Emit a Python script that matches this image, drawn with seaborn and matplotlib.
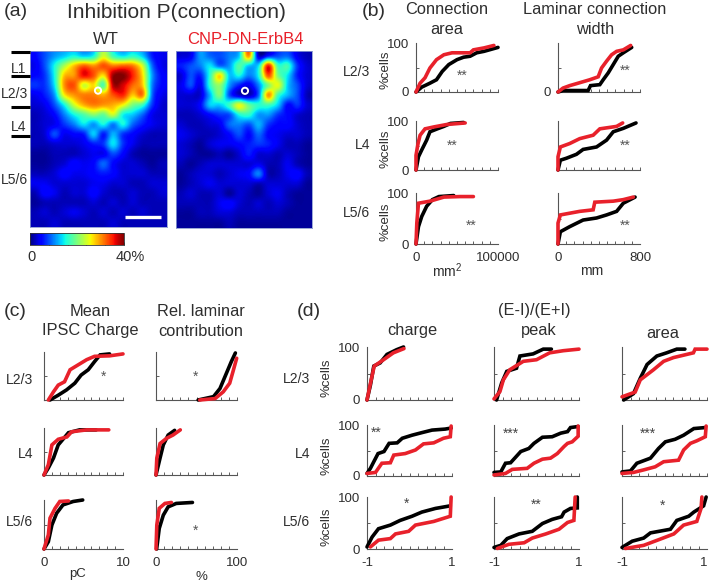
import numpy as np
import matplotlib
matplotlib.use("Agg")
import matplotlib.pyplot as plt
from matplotlib.lines import Line2D
import seaborn as sns

sns.set_style("white")
plt.rcParams['font.family'] = ['Liberation Sans', 'DejaVu Sans']
plt.rcParams['mathtext.fontset'] = 'custom'
plt.rcParams['mathtext.rm'] = 'Liberation Sans'

W, H = 709, 582
TXT = '#2e2e2e'
RED = '#e8212b'

# ---- heat map values, percent of connected sites ----
wt_map = [
 [5,8,11,13,15,13,15,24,17,14,16,13,6,4],
 [4,8,15,22,28,32,30,33,31,32,31,24,9,4],
 [5,7,15,28,30,36,33,27,39,40,35,27,11,5],
 [7,7,14,30,33,24,27,18,38,37,32,28,10,5],
 [4,6,11,26,30,31,31,29,33,35,28,31,9,4],
 [3,4,8,15,24,29,31,30,29,26,20,17,7,3],
 [2,3,5,10,15,18,21,19,24,15,13,9,4,3],
 [2,3,4,7,10,14,11,15,10,15,9,6,4,3],
 [2,3,8,4,5,6,13,6,12,7,5,3,2,2],
 [2,2,3,3,3,4,6,7,14,7,4,2,2,2],
 [1,1,2,2,2,3,4,4,8,5,2,1,1,1],
 [1,1,2,3,5,4,5,9,5,3,3,2,1,2],
 [2,2,3,5,4,4,5,6,5,3,3,3,2,2],
 [4,4,3,3,3,3,4,4,3,3,2,2,3,3],
 [2,5,4,2,3,3,5,3,2,2,3,2,2,3],
 [1,2,2,2,2,2,3,2,3,2,3,2,2,2],
 [2,3,2,3,4,3,2,3,2,3,2,3,2,2],
 [2,2,3,2,2,2,2,2,3,2,2,2,2,2],
]
ko_map = [
 [3,4,11,9,8,10,13,30,3,6,8,9,4,2],
 [6,8,10,14,9,11,18,13,14,35,17,17,7,3],
 [3,8,6,16,27,13,15,10,15,33,20,14,6,3],
 [4,8,4,16,21,11,6,4,10,20,25,13,8,3],
 [3,3,3,12,20,8,3,2,9,30,17,12,8,2],
 [3,3,5,13,13,17,25,19,16,17,13,5,7,3],
 [2,2,3,5,7,8,15,16,11,11,7,5,3,2],
 [3,2,2,3,4,9,10,8,12,7,5,5,3,2],
 [4,3,2,2,3,5,8,5,9,5,4,3,3,2],
 [3,2,1,3,4,4,5,6,7,6,4,2,2,1],
 [3,2,1,1,2,1,3,6,3,3,2,3,2,1],
 [2,1,2,3,3,3,3,3,4,2,2,4,2,1],
 [1,2,3,3,2,3,4,5,10,2,2,4,5,2],
 [1,2,3,4,3,3,3,3,2,3,3,3,3,1],
 [2,3,2,2,3,1,3,2,1,3,4,2,1,1],
 [2,2,2,2,4,5,3,2,3,2,3,2,1,1],
 [1,1,2,2,3,3,2,2,2,2,2,1,1,1],
 [1,1,1,1,1,2,1,1,1,1,1,1,1,1],
]

# ---- panel b: connection area (thousand um2) ----
b_area_l23_wt_x = [0,7,17,25,32,40,50,58,66,74,83,100]
b_area_l23_wt_y = [0,10,18,25,42,56,66,71,73,80,83,91]
b_area_l23_ko_x = [0,5,11,17,25,34,44,66,70,83,95]
b_area_l23_ko_y = [0,18,29,49,66,76,80,80,86,90,95]
b_area_l4_wt_x = [0,3,7,13,17,26,34,42,58]
b_area_l4_wt_y = [0,27,41,61,78,84,89,95,97]
b_area_l4_ko_x = [0,0,2.5,5,11,22,38,60]
b_area_l4_ko_y = [0,30,54,71,84,88,93,96]
b_area_l56_wt_x = [0,3,7,13,20,28,46]
b_area_l56_wt_y = [0,34,54,74,87,93,95]
b_area_l56_ko_x = [0,1,3,17,34,54,70]
b_area_l56_ko_y = [0,41,80,84,92,93,93]
# ---- panel b: laminar width (um) ----
b_width_l23_wt_x = [0,49,294,317,408,441,490,539,588,637,719]
b_width_l23_wt_y = [0,3,3,13,15,25,39,56,73,80,91]
b_width_l23_ko_x = [0,49,114,180,310,392,425,474,523,572,637,709]
b_width_l23_ko_y = [0,8,13,17,25,31,49,63,76,83,86,95]
b_width_l4_wt_x = [0,23,82,180,245,376,474,539,637,761]
b_width_l4_wt_y = [0,20,24,32,42,47,61,78,85,96]
b_width_l4_ko_x = [0,0,23,114,212,343,408,572,631]
b_width_l4_ko_y = [0,27,47,54,64,71,84,89,96]
b_width_l56_wt_x = [0,23,114,245,376,474,572,637,752]
b_width_l56_wt_y = [0,24,34,47,51,57,64,80,92]
b_width_l56_ko_x = [0,0,23,212,343,359,539,637,735]
b_width_l56_ko_y = [0,41,57,64,67,82,84,87,92]

# ---- panel c: charge (pC) ----
c_charge_l23_wt_x = [.76,1.8,2.85,3.9,4.7,5.6,6.4,7.1,8.3]
c_charge_l23_wt_y = [0,10,21,35,52,63,80,94,96]
c_charge_l23_ko_x = [.55,1.2,1.8,2.6,3.3,4.3,5.4,6.4,8.3,10]
c_charge_l23_ko_y = [0,17,31,38,63,73,84,91,92,96]
c_charge_l4_wt_x = [0,.55,1.2,1.8,3.1,4.5,6.6]
c_charge_l4_wt_y = [0,15,36,64,90,96,96]
c_charge_l4_ko_x = [0,.55,1,1.8,2.9,3.5,5.4,8.2]
c_charge_l4_ko_y = [0,22,64,76,81,92,96,96]
c_charge_l56_wt_x = [0,.55,1,1.6,2.4,3.7,4.9]
c_charge_l56_wt_y = [0,15,49,73,90,97,100]
c_charge_l56_ko_x = [0,.55,.76,1.4,2,3.1]
c_charge_l56_ko_y = [0,29,63,83,97,98]
# ---- panel c: relative laminar contribution (%) ----
c_rel_l23_wt_x = [52,71,79,87,93,98]
c_rel_l23_wt_y = [0,7,24,56,80,98]
c_rel_l23_ko_x = [54,73,83,91,95,99.6]
c_rel_l23_ko_y = [0,3,17,35,59,87]
c_rel_l4_wt_x = [0,5,9,15,23]
c_rel_l4_wt_y = [0,36,64,85,95]
c_rel_l4_ko_x = [0,1,5,13,21,30]
c_rel_l4_ko_y = [0,36,67,78,85,96]
c_rel_l56_wt_x = [.8,4,9,15,25,45]
c_rel_l56_wt_y = [0,42,69,86,93,95]
c_rel_l56_ko_x = [0,1,4,11,19]
c_rel_l56_ko_y = [0,49,83,93,95]

# ---- panel d: (E-I)/(E+I) ----
d_charge_l23_wt_x = [-1,-.92,-.84,-.69,-.53,-.3,-.14]
d_charge_l23_wt_y = [0,28,64,70,86,95,100]
d_charge_l23_ko_x = [-1,-.92,-.83,-.61,-.38,-.13]
d_charge_l23_ko_y = [0,31,64,76,89,97]
d_charge_l4_wt_x = [-1,-.92,-.84,-.74,-.6,-.48,-.29,-.17,.06,.29,.53,.84,.98]
d_charge_l4_wt_y = [5,15,28,44,48,64,65,74,80,85,90,92,94]
d_charge_l4_ko_x = [-1,-.8,-.65,-.45,-.37,-.1,.14,.33,.57,.8,.96,.98]
d_charge_l4_ko_y = [5,7,25,26,41,44,51,63,65,74,77,98]
d_charge_l56_wt_x = [-1,-.88,-.73,-.45,-.22,.06,.29,.61,.96]
d_charge_l56_wt_y = [4,23,39,46,55,63,71,78,83]
d_charge_l56_ko_x = [-.92,-.73,-.45,-.33,-.02,.14,.57,.96,.98]
d_charge_l56_ko_y = [4,17,20,29,34,46,53,63,100]

d_peak_l23_wt_x = [-.94,-.82,-.7,-.47,-.39,-.08,.16,.35]
d_peak_l23_wt_y = [0,32,54,60,83,87,96,96]
d_peak_l23_ko_x = [-1,-.86,-.78,-.63,-.31,0,.31,.63,1]
d_peak_l23_ko_y = [2,16,38,57,73,76,89,93,96]
d_peak_l4_wt_x = [-1,-.84,-.73,-.61,-.49,-.37,-.18,-.06,.14,.37,.57,.73,.8,.98]
d_peak_l4_wt_y = [7,8,25,26,37,48,54,64,76,77,84,87,95,97]
d_peak_l4_ko_x = [-1,-.73,-.57,-.22,-.06,.14,.33,.49,.65,.73,.84,.98,.98]
d_peak_l4_ko_y = [2,5,13,15,25,33,35,44,58,64,67,78,98]
d_peak_l56_wt_x = [-1,-.84,-.69,-.41,-.1,.14,.37,.59,.65,.8,.96,.96]
d_peak_l56_wt_y = [3,7,20,29,34,49,57,62,71,78,79,100]
d_peak_l56_ko_x = [-.92,-.65,-.29,-.1,.22,.53,.73,.88,.91]
d_peak_l56_ko_y = [1,9,12,21,29,38,51,55,100]

d_area_l23_wt_x = [-.96,-.73,-.57,-.41,-.18,.05,.29,.48]
d_area_l23_wt_y = [0,12,41,67,83,89,96,96]
d_area_l23_ko_x = [-1,-.69,-.57,-.26,-.02,.21,.68,.72,1]
d_area_l23_ko_y = [6,15,38,57,73,80,89,96,96]
d_area_l4_wt_x = [-1,-.8,-.65,-.49,-.33,-.14,.02,.25,.45,.69,.96]
d_area_l4_wt_y = [8,10,25,30,35,54,67,72,80,93,95]
d_area_l4_ko_x = [-1,-.73,-.49,-.22,-.02,.33,.45,.61,.76,.96,.98]
d_area_l4_ko_y = [5,7,12,18,28,31,51,64,69,77,98]
d_area_l56_wt_x = [-1,-.76,-.49,-.33,.14,.29,.57,.69,.92,.98]
d_area_l56_wt_y = [3,15,21,31,38,55,63,71,83,100]
d_area_l56_ko_x = [-.92,-.49,-.1,.22,.45,.76,.86,.88]
d_area_l56_ko_y = [1,7,19,29,46,53,78,100]

fig = plt.figure(figsize=(W/100, H/100), dpi=100, facecolor='white')


def axpx(x0, x1, ytop, ybot):
    return fig.add_axes([x0/W, 1-ybot/H, (x1-x0)/W, (ybot-ytop)/H])


def T(x, y, s, size=10, ha='center', color=TXT, **k):
    fig.text(x/W, 1-y/H, s, fontsize=size, ha=ha, va='center', color=color, **k)


def cdf(rect, xr, wx, wy, kx, ky, ylab=(), xlab=None):
    ax = axpx(*rect)
    for x, y, c in ((wx, wy, 'black'), (kx, ky, RED)):
        sns.lineplot(x=x, y=y, ax=ax, color=c, lw=2.6, estimator=None, sort=False,
                     clip_on=False, solid_joinstyle='miter', zorder=3)
    ax.set_xlim(*xr)
    ax.set_ylim(0, 100)
    for s in ('top', 'right'):
        ax.spines[s].set_visible(False)
    for s in ('left', 'bottom'):
        ax.spines[s].set_color('#555555')
        ax.spines[s].set_linewidth(0.8)
    ax.set_facecolor('none')
    ax.set_xticks(np.linspace(xr[0], xr[1], 11), minor=True)
    ax.set_yticks([50], minor=True)
    ax.tick_params(which='minor', direction='in', length=2, width=0.6, color='#444444',
                   bottom=True, left=True)
    if xlab:
        ax.set_xticks(xr)
        ax.set_xticklabels(xlab)
    else:
        ax.set_xticks([])
    if ylab:
        ax.set_yticks([0, 100])
        ax.set_yticklabels(ylab)
    else:
        ax.set_yticks([])
    ax.tick_params(which='major', length=0, labelsize=9.5, colors=TXT, pad=5)
    ax.tick_params(axis='x', which='major', pad=6)
    ax.set_xlabel('')
    ax.set_ylabel('')
    return ax


# ----- panel a -----
im = None
for rect, data in (((30, 167, 51, 227), wt_map), ((176, 312, 51, 228), ko_map)):
    ax = axpx(*rect)
    first = data is wt_map
    im = ax.imshow(np.array(data, float), cmap='jet', vmin=0, vmax=40, aspect='auto',
                   interpolation='catrom', extent=(0, 14, 18, 0))
    ax.set_xticks([])
    ax.set_yticks([])
    for s in ax.spines.values():
        s.set_color('#8a9ad0')
        s.set_linewidth(0.6)
    sx = 6.95 if first else 7.1
    ax.scatter([sx], [4.05], s=20, facecolor='none', edgecolor='white', lw=1.4, zorder=5)
    if first:
        ax.plot([9.7, 13.4], [17.0, 17.0], color='white', lw=2.4, solid_capstyle='butt', zorder=5)
cax = axpx(30, 124, 233, 245)
cb = fig.colorbar(im, cax=cax, orientation='horizontal', ticks=[0, 8, 16, 24, 32, 40])
cax.tick_params(axis='x', direction='in', length=2, width=0.6, color='#333333', labelbottom=False, bottom=True, top=False)
cb.outline.set_edgecolor('#333333')
cb.outline.set_linewidth(0.6)

T(4, 11, '(a)', 14, ha='left')
T(176, 12, 'Inhibition P(connection)', 15)
T(106, 39, 'WT', 12)
T(245, 39, 'CNP-DN-ErbB4', 12, color='#e8202a')
T(19, 69, 'L1', 10)
T(14, 94, 'L2/3', 10)
T(19, 127, 'L4', 10)
T(14, 180, 'L5/6', 10)
for yy in (52, 76, 107, 136):
    fig.add_artist(Line2D([11/W, 30/W], [1-yy/H, 1-yy/H], color='black', lw=2.2, solid_capstyle='butt'))
T(32, 257, '0', 10.5)
T(130, 257, '40%', 10.5)

# ----- panel b -----
T(362, 11, '(b)', 14, ha='left')
T(447, 10, 'Connection', 11.8)
T(447, 29, 'area', 11.8)
T(595, 10, 'Laminar connection', 11.8)
T(595, 29, 'width', 11.8)
brow = [(43, 92), (121, 170), (193, 244)]
bcol = [(416, 498), (558, 640)]
bdata = [
 [(b_area_l23_wt_x, b_area_l23_wt_y, b_area_l23_ko_x, b_area_l23_ko_y),
  (b_width_l23_wt_x, b_width_l23_wt_y, b_width_l23_ko_x, b_width_l23_ko_y)],
 [(b_area_l4_wt_x, b_area_l4_wt_y, b_area_l4_ko_x, b_area_l4_ko_y),
  (b_width_l4_wt_x, b_width_l4_wt_y, b_width_l4_ko_x, b_width_l4_ko_y)],
 [(b_area_l56_wt_x, b_area_l56_wt_y, b_area_l56_ko_x, b_area_l56_ko_y),
  (b_width_l56_wt_x, b_width_l56_wt_y, b_width_l56_ko_x, b_width_l56_ko_y)],
]
for r, (yt, yb) in enumerate(brow):
    for c, (x0, x1) in enumerate(bcol):
        xr = (0, 100) if c == 0 else (0, 800)
        yl = ('0', '100') if c == 0 else (('0', '') if r == 0 else ())
        xl = None
        if r == 2:
            xl = ('0', '100000') if c == 0 else ('0', '800')
        cdf((x0, x1, yt, yb), xr, *bdata[r][c], ylab=yl, xlab=xl)
T(370, 72, 'L2/3', 10, ha='right')
T(370, 145, 'L4', 10, ha='right')
T(370, 213, 'L5/6', 10, ha='right')
for yy in (70, 149, 222):
    T(385, yy, '%cells', 9.5, rotation=90)
T(447, 271, 'mm$^{2}$', 10)
T(592, 271, 'mm', 10)
for x, y, s in ((462, 76, '**'), (625, 71, '**'), (452, 146, '**'), (625, 146, '**'), (471, 226, '**'), (625, 226, '**')):
    T(x, y, s, 10, color='#555555')

# ----- panel c -----
T(4, 312, '(c)', 14, ha='left')
T(90, 312, 'Mean', 11.8)
T(90, 331, 'IPSC Charge', 11.8)
T(201, 312, 'Rel. laminar', 11.8)
T(201, 331, 'contribution', 11.8)
crow = [(352, 400), (428, 475), (500, 549)]
ccol = [(44, 123), (156, 237)]
cdata = [
 [(c_charge_l23_wt_x, c_charge_l23_wt_y, c_charge_l23_ko_x, c_charge_l23_ko_y),
  (c_rel_l23_wt_x, c_rel_l23_wt_y, c_rel_l23_ko_x, c_rel_l23_ko_y)],
 [(c_charge_l4_wt_x, c_charge_l4_wt_y, c_charge_l4_ko_x, c_charge_l4_ko_y),
  (c_rel_l4_wt_x, c_rel_l4_wt_y, c_rel_l4_ko_x, c_rel_l4_ko_y)],
 [(c_charge_l56_wt_x, c_charge_l56_wt_y, c_charge_l56_ko_x, c_charge_l56_ko_y),
  (c_rel_l56_wt_x, c_rel_l56_wt_y, c_rel_l56_ko_x, c_rel_l56_ko_y)],
]
for r, (yt, yb) in enumerate(crow):
    for c, (x0, x1) in enumerate(ccol):
        xr = (0, 10) if c == 0 else (0, 100)
        xl = None
        if r == 2:
            xl = ('0', '10') if c == 0 else ('0', '100')
        cdf((x0, x1, yt, yb), xr, *cdata[r][c], xlab=xl)
T(33, 380, 'L2/3', 10, ha='right')
T(33, 454, 'L4', 10, ha='right')
T(33, 522, 'L5/6', 10, ha='right')
T(78, 574, 'pC', 9.5)
T(201, 577, '%', 9.5)
for x, y, s in ((104, 377, '*'), (196, 377, '*'), (196, 531, '*')):
    T(x, y, s, 10, color='#555555')

# ----- panel d -----
T(297, 312, '(d)', 14, ha='left')
T(534, 311, '(E-I)/(E+I)', 11.8)
T(412, 330, 'charge', 11.8)
T(539, 330, 'peak', 11.8)
T(663, 333, 'area', 11.8)
drow = [(347, 400), (425, 476), (497, 549)]
dcol = [(367, 452), (494, 579), (622, 707)]
ddata = [
 [(d_charge_l23_wt_x, d_charge_l23_wt_y, d_charge_l23_ko_x, d_charge_l23_ko_y),
  (d_peak_l23_wt_x, d_peak_l23_wt_y, d_peak_l23_ko_x, d_peak_l23_ko_y),
  (d_area_l23_wt_x, d_area_l23_wt_y, d_area_l23_ko_x, d_area_l23_ko_y)],
 [(d_charge_l4_wt_x, d_charge_l4_wt_y, d_charge_l4_ko_x, d_charge_l4_ko_y),
  (d_peak_l4_wt_x, d_peak_l4_wt_y, d_peak_l4_ko_x, d_peak_l4_ko_y),
  (d_area_l4_wt_x, d_area_l4_wt_y, d_area_l4_ko_x, d_area_l4_ko_y)],
 [(d_charge_l56_wt_x, d_charge_l56_wt_y, d_charge_l56_ko_x, d_charge_l56_ko_y),
  (d_peak_l56_wt_x, d_peak_l56_wt_y, d_peak_l56_ko_x, d_peak_l56_ko_y),
  (d_area_l56_wt_x, d_area_l56_wt_y, d_area_l56_ko_x, d_area_l56_ko_y)],
]
for r, (yt, yb) in enumerate(drow):
    for c, (x0, x1) in enumerate(dcol):
        yl = ('0', '100') if c == 0 else ()
        xl = ('-1', '1') if r == 2 else None
        a = cdf((x0, x1, yt, yb), (-1, 1), *ddata[r][c], ylab=yl, xlab=xl)
        if xl and c == 2:
            a.get_xticklabels()[1].set_ha('right')
T(310, 379, 'L2/3', 10, ha='right')
T(310, 454, 'L4', 10, ha='right')
T(310, 522, 'L5/6', 10, ha='right')
for yy in (378, 456, 527):
    T(326, yy, '%cells', 9.5, rotation=90)
for x, y, s in ((376, 433, '**'), (511, 434, '***'), (648, 434, '***'), (407, 504, '*'), (536, 505, '**'), (663, 506, '*')):
    T(x, y, s, 10, color='#444444')

fig.savefig('out.png', dpi=100)
